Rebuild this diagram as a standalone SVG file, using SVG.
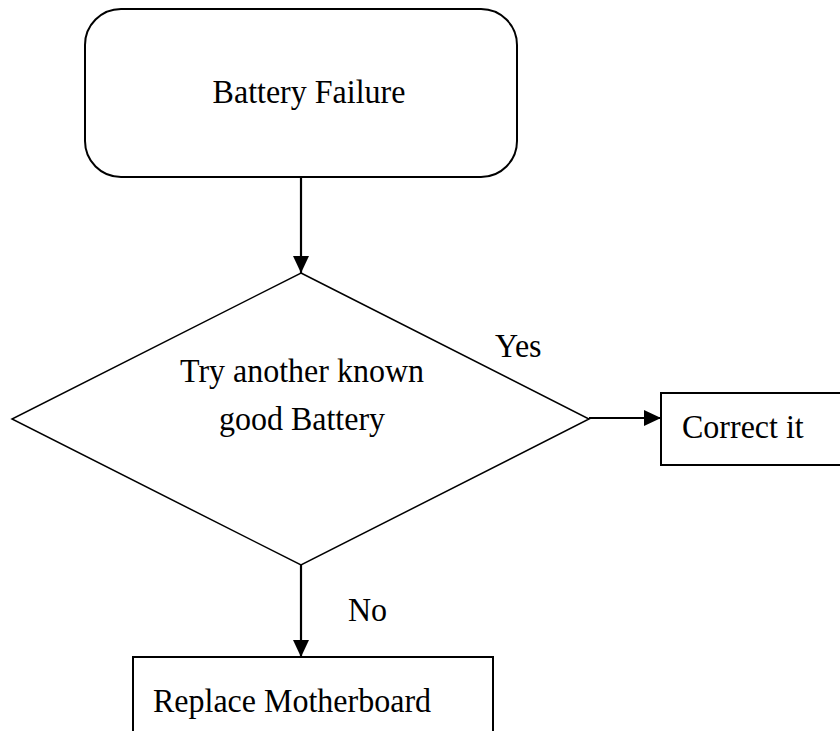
<svg xmlns="http://www.w3.org/2000/svg" width="840" height="731" viewBox="0 0 840 731">
<style>
.box{fill:#fff;stroke:#000;stroke-width:2}
.dia{fill:#fff;stroke:#000;stroke-width:1.5}
.t{font-family:"Liberation Serif","Times New Roman",serif;font-size:32px;fill:#000}
.c{text-anchor:middle}
.edge{stroke:#000;stroke-width:2.2;fill:none}
</style>
<defs>
<marker id="ah" markerUnits="userSpaceOnUse" markerWidth="18" markerHeight="16" refX="17" refY="8" orient="auto">
<path d="M0,0 L17,8 L0,16 Z" fill="#000"/>
</marker>
</defs>
<rect width="840" height="731" fill="#fff"/>
<g id="n-battery-failure">
<rect class="box" x="85" y="9" width="432" height="168" rx="36" ry="36"/>
<text class="t c" transform="translate(309,103) scale(1,1.08)">Battery Failure</text>
</g>
<g id="n-try-battery">
<polygon class="dia" points="301,273 589,419 301,565 12,419"/>
<text class="t c" transform="translate(302,382) scale(1,1.08)">Try another known</text>
<text class="t c" transform="translate(302,430) scale(1,1.08)">good Battery</text>
</g>
<g id="n-correct-it">
<rect class="box" x="661" y="393" width="190" height="72"/>
<text class="t" transform="translate(682,438) scale(1,1.08)">Correct it</text>
</g>
<g id="n-replace-mb">
<rect class="box" x="133" y="657" width="360" height="90"/>
<text class="t" transform="translate(153,712) scale(1,1.08)">Replace Motherboard</text>
</g>
<g id="connectors">
<line class="edge" x1="301" y1="177" x2="301" y2="273" marker-end="url(#ah)"/>
<line class="edge" x1="589" y1="418" x2="661" y2="418" marker-end="url(#ah)"/>
<line class="edge" x1="301" y1="565" x2="301" y2="657" marker-end="url(#ah)"/>
<text class="t" transform="translate(495,357) scale(1,1.08)">Yes</text>
<text class="t" transform="translate(348,621) scale(1,1.08)">No</text>
</g>
</svg>
